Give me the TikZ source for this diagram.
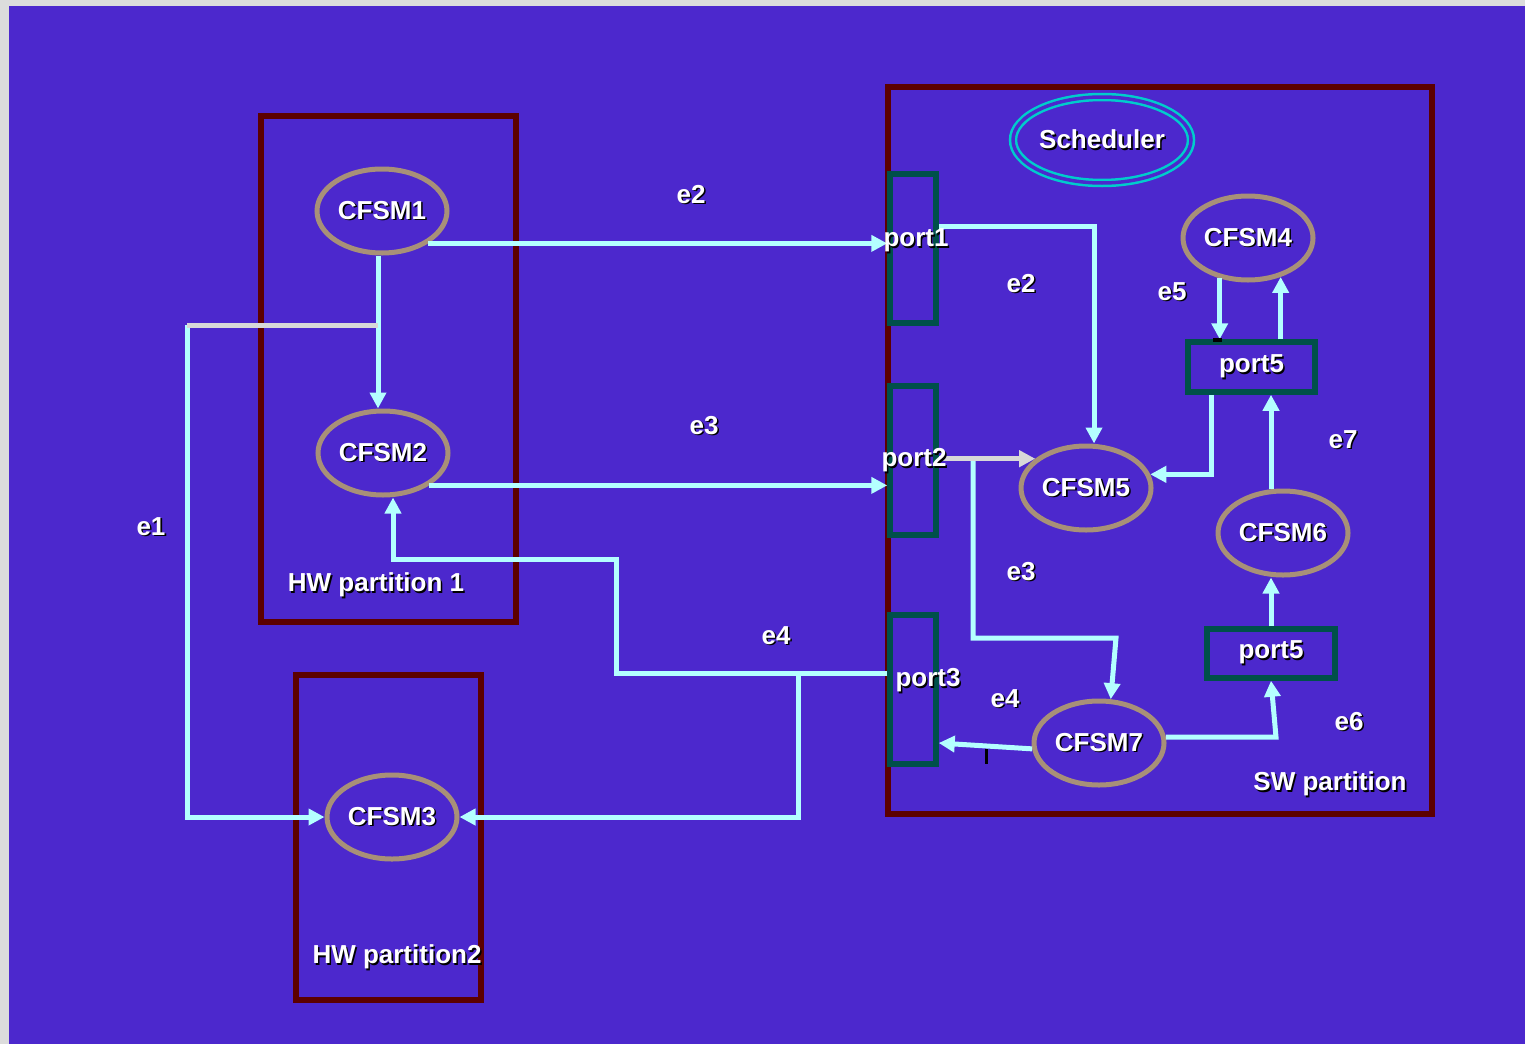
\documentclass[tikz,border=0pt]{standalone}
\usepackage{fontspec}
\setmainfont{Liberation Sans}
\usetikzlibrary{shapes.geometric,arrows.meta}

\definecolor{bgc}{HTML}{4C28CD}
\definecolor{framec}{HTML}{DCDCDC}
\definecolor{partc}{HTML}{5C0000}
\definecolor{portc}{HTML}{00504A}
\definecolor{fsmc}{HTML}{A89078}
\definecolor{linkc}{HTML}{B4FFFF}
\definecolor{greyc}{HTML}{D8D8D8}
\definecolor{schedc}{HTML}{00CCCC}

\newcommand\lblfont{\bfseries\fontsize{26}{30}\selectfont}
\newcommand\shtxt[1]{\leavevmode\rlap{\kern1.6pt\raisebox{-1.6pt}{\color{black}#1}}#1}

\begin{document}
\begin{tikzpicture}[x=1pt,y=-1pt,>={Triangle[length=16pt,width=16pt]},
	fsm/.style={ellipse,draw=fsmc,line width=5pt,minimum width=130pt,minimum height=84pt,inner sep=0pt,text=white,font=\lblfont},
	sched/.style={ellipse,draw=schedc,double=bgc,double distance=3.5pt,line width=2.5pt,minimum width=178pt,minimum height=86pt,inner sep=0pt,text=white,font=\lblfont},
	port/.style={rectangle,draw=portc,line width=5.5pt,inner sep=0pt,text=white,font=\lblfont},
	part/.style={draw=partc,line width=5.5pt},
	lab/.style={text=white,font=\lblfont,inner sep=0pt},
	link/.style={draw=linkc,line width=5pt,->},
	grey/.style={draw=greyc,line width=5pt}]
	
	%----------------------
	% Background
	%----------------------
	\useasboundingbox (0,0) rectangle (1525,1044);
	\fill[framec] (0,0) rectangle (1525,1044);
	\fill[bgc] (9,6) rectangle (1525,1044);
	
	% Partitions
	\draw[part] (261,116) rectangle (516,622);
	\draw[part] (296,675) rectangle (481,1000);
	\draw[part] (888,87) rectangle (1432,814);
	
	% Ports
	\node[port,minimum width=46pt,minimum height=149pt] (p1) at (913,248.5) {};
	\node[port,minimum width=46pt,minimum height=149pt] (p2) at (913,460.5) {};
	\node[port,minimum width=46pt,minimum height=149pt] (p3) at (913,689.5) {};
	\node[port,minimum width=127pt,minimum height=50pt] (p5a) at (1251.5,367) {\shtxt{port5}};
	\node[port,minimum width=128pt,minimum height=49pt] (p5b) at (1271,653.5) {\shtxt{port5}};
	
	% CFSMs
	\node[fsm] (c1) at (382,211) {\shtxt{CFSM1}};
	\node[fsm] (c2) at (383,453) {\shtxt{CFSM2}};
	\node[fsm] (c3) at (392,817) {\shtxt{CFSM3}};
	\node[fsm] (c4) at (1248,238) {\shtxt{CFSM4}};
	\node[fsm] (c5) at (1086,488) {\shtxt{CFSM5}};
	\node[fsm] (c6) at (1283,533) {\shtxt{CFSM6}};
	\node[fsm] (c7) at (1099,743) {\shtxt{CFSM7}};
	\node[sched] (sch) at (1102,140) {\shtxt{Scheduler}};
	
	%----------------------
	% Connections
	%----------------------
	\coordinate (e1top) at (187,325);
	\coordinate (e1j) at (378,325);
	\coordinate (e4a) at (616,673);
	\coordinate (e4b) at (393,559);
	\coordinate (e4c) at (798,673);
	\coordinate (e2a) at (1094,226);
	\coordinate (e3a) at (973,461);
	\coordinate (e3b) at (1116,638);
	\coordinate (e6a) at (1276,737);
	
	% hardware side
	\draw[link] (c1.-35) -- (c1.-35 -| p1.west);
	\draw[link] (e1j |- c1.south) -- (e1j |- c2.north);
	\draw[link] (e1top) |- (c3.west);
	\draw[grey] (e1top) -- (e1j);
	\draw[link] (c2.-35) -- (c2.-35 -| p2.west);
	\draw[link] (p3.west |- e4a) -- (e4a) |- (e4b) -- (e4b |- c2.south);
	\draw[link] (e4c) |- (c3.east);
	
	% software side
	\draw[link] (p1.east |- e2a) -- (e2a) -- (e2a |- c5.north);
	\draw[grey,->] (p2.east |- c5.150) -- (c5.150);
	\draw[link] (e3a) |- (e3b) -- (c7.75);
	\draw[link] (c7.185) -- (p3.east |- c7.west);
	\draw[link] (c7.5) -- (e6a) -- (p5b.south);
	\draw[link] (p5b.north) -- (p5b.north |- c6.south);
	\draw[link] (c6.north -| p5b) -- (p5b |- p5a.south);
	\draw[link] ([xshift=-40pt]p5a.south) |- (c5.12);
	\draw[link] (c4.235) -- (c4.235 |- p5a.north);
	\draw[link] (c4.310 |- p5a.north) -- (c4.310);
	
	% small black marks
	\draw[black,line width=3pt] (986,749) -- (986,764);
	\fill[black] (1213,338) rectangle (1222,342);
	
	%----------------------
	% Labels
	%----------------------
	\node[lab] (lp1) at (916,241) {\shtxt{port1}};
	\node[lab] (lp2) at (914,461) {\shtxt{port2}};
	\node[lab] (lp3) at (928,681) {\shtxt{port3}};
	\node[lab] (le1) at (151,527) {\shtxt{e1}};
	\node[lab] (le2) at (691,195) {\shtxt{e2}};
	\node[lab] (le3) at (704,426) {\shtxt{e3}};
	\node[lab] (le4) at (776,636) {\shtxt{e4}};
	\node[lab] (lf2) at (1021,284) {\shtxt{e2}};
	\node[lab] (lf3) at (1021,572) {\shtxt{e3}};
	\node[lab] (lf4) at (1005,699) {\shtxt{e4}};
	\node[lab] (lf5) at (1172,292) {\shtxt{e5}};
	\node[lab] (lf6) at (1349,722) {\shtxt{e6}};
	\node[lab] (lf7) at (1343,440) {\shtxt{e7}};
	\node[lab] (lhw1) at (376,586) {\shtxt{HW partition 1}};
	\node[lab] (lhw2) at (397,958) {\shtxt{HW partition2}};
	\node[lab] (lsw) at (1330,785) {\shtxt{SW partition}};
	
\end{tikzpicture}
\end{document}
